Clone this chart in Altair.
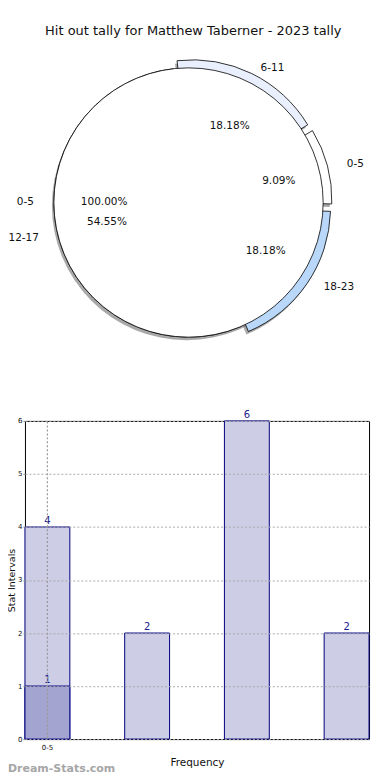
import altair as alt
import pandas as pd

title_text = "Hit out tally for Matthew Taberner - 2023 tally"

# pie: exploded slices (drawn clockwise from the top)
pie_labels = ["6-11", "0-5", "18-23", "12-17"]
pie_counts = [2, 1, 2, 6]
pie_order = [0, 1, 2, 3]
pie_palette = ["#e9effc", "#ffffff", "#b9d7f9", "#ffffff"]
exploded_slices = ["6-11", "0-5", "18-23"]

# pie: the single full slice
full_labels = ["0-5"]
full_counts = [1]

# bars
bar_categories = ["0-5", "6-11", "12-17", "18-23"]
bar_values = [4, 2, 6, 2]
overlay_categories = ["0-5"]
overlay_values = [1]
watermark = ["Dream-Stats.com"]

FONT = "DejaVu Sans"
ORIGIN = 25           # page x of the plot areas' left edge
PIE_W, PIE_H = 382 - ORIGIN, 359
CX, CY = 189 - ORIGIN, 160
R = 135
D = 9
S0 = -0.115
RX, RY = 141, 128  # label placement follows the reference's slightly squashed pie
LRX, LRY = 1.1 * RX, 1.1 * RY
PRX, PRY = 0.6 * RX, 0.6 * RY

pie_df = pd.DataFrame({"label": pie_labels, "n": pie_counts, "order": pie_order})
full_df = pd.DataFrame({"label": full_labels, "n": full_counts})
ex_list = "[" + ",".join("'%s'" % s for s in exploded_slices) + "]"

pie_base = alt.Chart(pie_df).transform_window(
    cum="sum(n)", sort=[alt.SortField("order")], frame=[None, 0]
).transform_joinaggregate(total="sum(n)").transform_calculate(
    a0=f"{S0} + 2*PI*(datum.cum - datum.n)/datum.total",
    a1=f"{S0} + 2*PI*datum.cum/datum.total",
).transform_calculate(
    am="(datum.a0 + datum.a1)/2",
    ex=f"indexof({ex_list}, datum.label) >= 0 ? {D} : 0",
).transform_calculate(
    cx=f"{CX} + datum.ex*sin(datum.am)",
    cy=f"{CY} - datum.ex*cos(datum.am)",
).transform_calculate(
    lx=f"datum.cx + {LRX}*sin(datum.am)",
    ly=f"datum.cy - {LRY}*cos(datum.am)",
    px=f"datum.cx + {PRX}*sin(datum.am)",
    py=f"datum.cy - {PRY}*cos(datum.am)",
    pct="format(datum.n/datum.total, '.2%')",
)

th = alt.Theta("a0:Q", scale=None)
th2 = alt.Theta2("a1:Q")
xc = alt.X("cx:Q", scale=None, axis=None)
yc = alt.Y("cy:Q", scale=None, axis=None)

wedge_shadow = pie_base.transform_filter("datum.ex > 0").mark_arc(
    radius=R, color="#6f6f6f", opacity=0.6, xOffset=-2, yOffset=3
).encode(theta=th, theta2=th2, x=xc, y=yc)

wedges = pie_base.mark_arc(radius=R, stroke="black", strokeWidth=0.8).encode(
    theta=th, theta2=th2, x=xc, y=yc,
    fill=alt.Fill("label:N", scale=alt.Scale(domain=pie_labels, range=pie_palette), legend=None),
)

full_base = alt.Chart(full_df).transform_joinaggregate(total="sum(n)").transform_calculate(
    a0="PI/2", a1="PI/2 + 2*PI*datum.n/datum.total"
).transform_calculate(
    am="(datum.a0 + datum.a1)/2",
    pct="format(datum.n/datum.total, '.2%')",
).transform_calculate(
    lx=f"{CX} + {LRX}*sin(datum.am)",
    ly=f"{CY} - {LRY}*cos(datum.am)",
    px=f"{CX} + {PRX}*sin(datum.am)",
    py=f"{CY} - {PRY}*cos(datum.am)",
)

main_shadow = full_base.mark_arc(radius=R, color="#6f6f6f", opacity=0.6, xOffset=-2, yOffset=3).encode(
    theta=th, theta2=th2, x=alt.value(CX), y=alt.value(CY)
)
main = full_base.mark_arc(radius=R, fill="white", stroke="black", strokeWidth=0.8).encode(
    theta=th, theta2=th2, x=alt.value(CX), y=alt.value(CY)
)

lxe = alt.X("lx:Q", scale=None, axis=None)
lye = alt.Y("ly:Q", scale=None, axis=None)
pxe = alt.X("px:Q", scale=None, axis=None)
pye = alt.Y("py:Q", scale=None, axis=None)

txt = dict(font=FONT, fontSize=10.5, color="#111111", baseline="middle")
lab_right = pie_base.transform_filter("sin(datum.am) >= 0").mark_text(align="left", **txt).encode(
    x=lxe, y=lye, text="label:N")
lab_left = pie_base.transform_filter("sin(datum.am) < 0").mark_text(align="right", **txt).encode(
    x=lxe, y=lye, text="label:N")
pct = pie_base.mark_text(align="center", **txt).encode(x=pxe, y=pye, text="pct:N")
full_lab = full_base.mark_text(align="right", **txt).encode(x=lxe, y=lye, text="label:N")
full_pct = full_base.mark_text(align="center", **txt).encode(x=pxe, y=pye, text="pct:N")

pie = alt.layer(
    main_shadow, wedge_shadow, wedges, main, lab_right, lab_left, pct, full_lab, full_pct
).properties(width=PIE_W, height=PIE_H, view=alt.ViewConfig(stroke="transparent"))

# ---------------- bar chart ----------------
bars_df = pd.DataFrame({"cat": bar_categories, "val": bar_values})
ov_df = pd.DataFrame({"cat": overlay_categories, "val": overlay_values})
first = bar_categories[0]

xenc = alt.X(
    "cat:N",
    sort=bar_categories,
    scale=alt.Scale(domain=bar_categories, paddingInner=0.55, paddingOuter=0),
    axis=alt.Axis(
        title="Frequency", labelExpr=f"datum.value == '{first}' ? datum.value : ''",
        labelAngle=0, labelFontSize=7, labelPadding=4, ticks=False, domain=False,
        grid=True, gridDash=[2, 2], gridColor="#9a9a9a", gridWidth=1.2,
        gridOpacity={"condition": {"test": f"datum.value == '{first}'", "value": 1}, "value": 0},
        bandPosition=0.5, titleFontSize=10.5, titleFontWeight="normal", titlePadding=7, zindex=1,
    ),
)
yenc = alt.Y(
    "val:Q",
    scale=alt.Scale(domain=[0, 6], nice=False),
    axis=alt.Axis(
        values=[0, 1, 2, 3, 4, 5, 6], format="d", title="Stat Intervals",
        labelFontSize=7, labelPadding=1, tickSize=2, tickColor="#888888",
        grid=True, gridDash=[2, 2], gridColor="#aaaaaa", domain=False,
        titleFontSize=9.5, titleFontWeight="normal", titlePadding=1, zindex=1,
    ),
)

bar_base = alt.Chart(bars_df)
light = bar_base.mark_bar(fill="#cdcde6", stroke="#000080", strokeWidth=1).encode(x=xenc, y=yenc)
light_txt = bar_base.mark_text(baseline="bottom", dy=-1, fontSize=10, font=FONT, color="#1c1c8c").encode(
    x=xenc, y=yenc, text="val:Q")
ov_base = alt.Chart(ov_df)
dark = ov_base.mark_bar(fill="#a4a4d0", stroke="#000080", strokeWidth=1).encode(x=xenc, y=yenc)
dark_txt = ov_base.mark_text(baseline="bottom", dy=-1, fontSize=10, font=FONT, color="#1c1c8c").encode(
    x=xenc, y=yenc, text="val:Q")
wm = alt.Chart(pd.DataFrame({"t": watermark})).mark_text(
    align="left", baseline="middle", fontSize=11, fontWeight="bold", font=FONT, color="#a6a6a6"
).encode(text="t:N", x=alt.value(8 - ORIGIN), y=alt.value(349))

bars = alt.layer(light, dark, light_txt, dark_txt, wm).properties(width=370 - ORIGIN, height=319)

chart = alt.vconcat(pie, bars, spacing=20, bounds="flush").properties(
    title=alt.Title(title_text, fontSize=13, fontWeight="normal", font=FONT, anchor="middle", dx=-0.5, color="#111111"),
    padding={"left": -2, "top": 16, "right": 0, "bottom": -1},
).configure(font=FONT).configure_view(stroke="black", strokeWidth=1).configure_axis(
    labelColor="#111111", titleColor="#111111", labelFont=FONT, titleFont=FONT
)

chart.save("out.html", embed_options={"renderer": "svg", "actions": False})
